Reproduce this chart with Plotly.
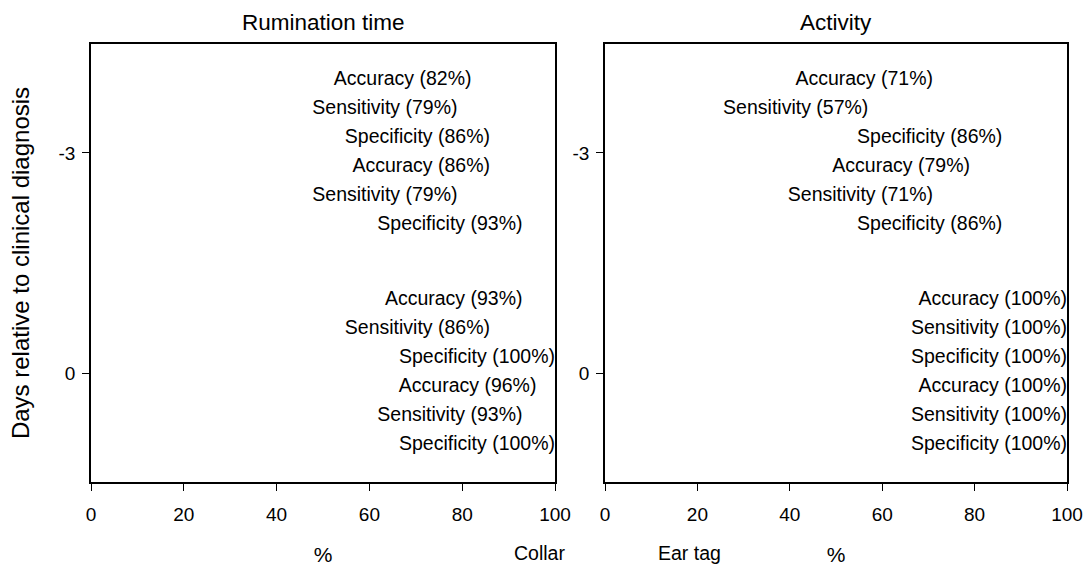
import plotly.graph_objects as go
from plotly.subplots import make_subplots

# Data
days = [-3, 0]
metrics = ["Accuracy", "Sensitivity", "Specificity", "Accuracy", "Sensitivity", "Specificity"]
rumination_day_m3 = [82, 79, 86, 86, 79, 93]
rumination_day_0 = [93, 86, 100, 96, 93, 100]
activity_day_m3 = [71, 57, 86, 79, 71, 86]
activity_day_0 = [100, 100, 100, 100, 100, 100]

panels = [
    ("Rumination time", [rumination_day_m3, rumination_day_0]),
    ("Activity", [activity_day_m3, activity_day_0]),
]

FONT = "Liberation Sans, Arial, sans-serif"
W, H = 1087, 570
L, R, T, B = 91, 20, 44, 88
pw = W - L - R
left_dom = [0, (555 - L) / pw]
right_dom = [(605 - L) / pw, 1]

fig = make_subplots(rows=1, cols=2)

row_step = 0.395
for ci, (title, groups) in enumerate(panels, start=1):
    xs, ys, txt = [], [], []
    for day, vals in zip(days, groups):
        for i, (m, v) in enumerate(zip(metrics, vals)):
            xs.append(v)
            ys.append(day + (i - 2.5) * row_step)
            txt.append(f"{m} ({v}%)")
    fig.add_trace(go.Scatter(x=xs, y=ys, text=txt, mode="text",
                             textposition="middle left",
                             textfont=dict(family=FONT, size=19.5, color="#000"),
                             showlegend=False, hoverinfo="skip"), row=1, col=ci)

axis_common = dict(showline=True, linecolor="#000", linewidth=1.5, mirror=True,
                   ticks="outside", ticklen=7, tickcolor="#000", showgrid=False,
                   zeroline=False, automargin=False,
                   tickfont=dict(family=FONT, size=19, color="#000"))

for ci, dom in [(1, left_dom), (2, right_dom)]:
    fig.update_xaxes(range=[0, 100], tickvals=[0, 20, 40, 60, 80, 100], domain=dom,
                     ticklabelstandoff=7,
                     title=dict(text="%", font=dict(family=FONT, size=21, color="#000"), standoff=24),
                     row=1, col=ci, **axis_common)
    fig.update_yaxes(range=[1.486, -4.486], tickvals=days, ticktext=["-3", "0"],
                     ticklabelstandoff=3,
                     row=1, col=ci, **axis_common)

fig.update_yaxes(title=dict(text="Days relative to clinical diagnosis",
                            font=dict(family=FONT, size=24, color="#000"), standoff=22),
                 row=1, col=1)

annotations = [
    dict(text="Rumination time", x=(left_dom[0] + left_dom[1]) / 2, y=1, yref="paper", xref="paper",
         xanchor="center", yanchor="middle", yshift=22, showarrow=False,
         font=dict(family=FONT, size=22.5, color="#000")),
    dict(text="Activity", x=(right_dom[0] + right_dom[1]) / 2, y=1, yref="paper", xref="paper",
         xanchor="center", yanchor="middle", yshift=22, showarrow=False,
         font=dict(family=FONT, size=22.5, color="#000")),
    dict(text="Collar", x=(539 - L) / pw, y=0, xref="paper", yref="paper",
         xanchor="center", yanchor="middle", yshift=-(553 - 482), showarrow=False,
         font=dict(family=FONT, size=19.5, color="#000")),
    dict(text="Ear tag", x=(689 - L) / pw, y=0, xref="paper", yref="paper",
         xanchor="center", yanchor="middle", yshift=-(553 - 482), showarrow=False,
         font=dict(family=FONT, size=19.5, color="#000")),
]

fig.update_layout(width=W, height=H, margin=dict(l=L, r=R, t=T, b=B),
                  plot_bgcolor="white", paper_bgcolor="white",
                  font=dict(family=FONT, color="#000"), annotations=annotations)

fig.write_html("out.html")
